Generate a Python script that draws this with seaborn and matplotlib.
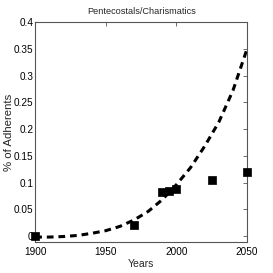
import matplotlib
matplotlib.use("Agg")
import matplotlib.pyplot as plt
import seaborn as sns
import pandas as pd

# observed share of adherents
obs_years = [1900, 1970, 1990, 1995, 2000, 2025, 2050]
obs_share = [0.0, 0.02, 0.082, 0.085, 0.087, 0.104, 0.12]

# fitted trend (dashed)
fit_years = [1900, 1910, 1920, 1930, 1940, 1950, 1960, 1970, 1980, 1990,
             2000, 2010, 2020, 2030, 2040, 2050]
fit_share = [-0.002, -0.002, -0.001, 0.001, 0.005, 0.010, 0.018, 0.030, 0.046, 0.068,
             0.096, 0.128, 0.168, 0.213, 0.272, 0.350]

x_ticks = [1900, 1950, 2000, 2050]
y_ticks = [0, 0.05, 0.1, 0.15, 0.2, 0.25, 0.3, 0.35, 0.4]
y_tick_labels = ["0", "0.05", "0.1", "0.15", "0.2", "0.25", "0.3", "0.35", "0.4"]

obs = pd.DataFrame({"year": obs_years, "share": obs_share})
fit = pd.DataFrame({"year": fit_years, "share": fit_share})

sns.set_theme(style="white")
plt.rcParams["font.family"] = ["Liberation Sans", "DejaVu Sans"]

fig = plt.figure(figsize=(2.73, 2.73), dpi=100)
ax = fig.add_axes([0.129, 0.114, 0.776, 0.805])

sns.lineplot(data=fit, x="year", y="share", ax=ax, color="black",
             linewidth=2.2, dashes=False, linestyle=(0, (2.2, 1.6)))
sns.scatterplot(data=obs, x="year", y="share", ax=ax, color="black",
                marker="s", s=30, edgecolor="black", linewidth=0.5,
                clip_on=False, zorder=3)

ax.set_xlim(1900, 2050)
ax.set_ylim(-0.011, 0.4)
ax.set_xticks(x_ticks)
ax.set_yticks(y_ticks)
ax.set_yticklabels(y_tick_labels)
ax.tick_params(direction="in", length=3, width=0.6, labelsize=7.2,
               top=True, right=True, colors="#555555", labelcolor="black")
ax.tick_params(axis="x", pad=4)
ax.tick_params(axis="y", pad=1.5)
for s in ax.spines.values():
    s.set_color("#555555")
    s.set_linewidth(0.8)

ax.set_xlabel("Years", fontsize=7.5, labelpad=1)
ax.set_ylabel("% of Adherents", fontsize=8.2)
ax.yaxis.set_label_coords(-0.1, 0.5)
ax.set_title("Pentecostals/Charismatics", fontsize=6.6, pad=6)

fig.savefig("out.png", dpi=100)
